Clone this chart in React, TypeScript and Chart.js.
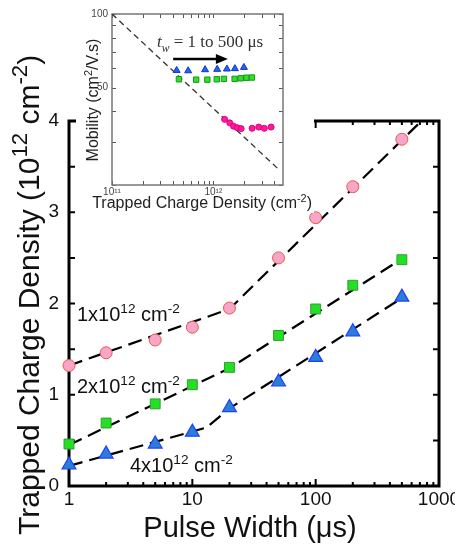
import { useEffect, useRef } from 'react';
import { Chart, registerables } from 'chart.js';

Chart.register(...registerables);

// ---------------- Main plot data ----------------
const pulseWidths = [1, 2, 5, 10, 20, 50, 100, 200, 500];
const density1e12 = [1.32, 1.46, 1.6, 1.74, 1.95, 2.5, 2.94, 3.28, 3.8];
const density2e12 = [0.46, 0.69, 0.9, 1.11, 1.3, 1.65, 1.94, 2.2, 2.48];
const density4e12 = [0.23, 0.35, 0.46, 0.59, 0.86, 1.14, 1.41, 1.69, 2.07];

// dashed guide lines (piecewise fits)
const fit1X = [1, 20, 720];
const fit1Y = [1.32, 1.94, 4.0];
const fit2X = [1, 20, 500];
const fit2Y = [0.45, 1.29, 2.49];
const fit4X = [1, 13, 20, 500];
const fit4Y = [0.22, 0.64, 0.85, 2.06];

const mainYTicks = [0, 1, 2, 3, 4];
const mainXTicks = [1, 10, 100, 1000];

// ---------------- Inset data ----------------
const insetTriX = [4.34e11, 5.64e11, 8.28e11, 1.09e12, 1.36e12, 1.63e12, 2.0e12];
const insetTriY = [58.8, 58.6, 59.2, 59.4, 59.6, 59.8, 60.5];
const insetSqX = [4.57e11, 6.76e11, 8.72e11, 1.08e12, 1.27e12, 1.62e12, 1.86e12, 2.12e12, 2.4e12];
const insetSqY = [54.1, 53.9, 53.9, 54.1, 54.3, 54.3, 54.6, 54.9, 55.0];
const insetCircX = [1.29e12, 1.45e12, 1.58e12, 1.72e12, 1.88e12, 2.41e12, 2.8e12, 3.18e12, 3.71e12];
const insetCircY = [37.1, 35.9, 34.8, 34.3, 34.0, 34.1, 34.5, 34.1, 34.5];
const insetDiagX = [1e11, 4.54e12];
const insetDiagY = [100, 22.9];
const insetArrowX = [4.01e11, 1.39e12];
const insetArrowY = [65.5, 65.5];

const SANS = "'Liberation Sans', Arial, sans-serif";
const SERIF = "'Liberation Serif', 'Times New Roman', serif";

Chart.defaults.font.family = SANS;

const toXY = (xs: number[], ys: number[]) => xs.map((x, i) => ({ x, y: ys[i] }));
const isPow10 = (v: number) => Math.abs(Math.log10(v) - Math.round(Math.log10(v))) < 1e-9;

type Part = { t: string; sup?: boolean; sub?: boolean; italic?: boolean };

function partFont(p: Part, size: number, family: string, supRatio: number) {
  const fs = p.sup || p.sub ? size * supRatio : size;
  return `${p.italic ? 'italic ' : ''}${fs}px ${family}`;
}
function richWidth(ctx: CanvasRenderingContext2D, parts: Part[], size: number, family: string, supRatio = 0.68) {
  let w = 0;
  for (const p of parts) {
    ctx.font = partFont(p, size, family, supRatio);
    w += ctx.measureText(p.t).width;
  }
  return w;
}
function drawRich(
  ctx: CanvasRenderingContext2D, parts: Part[], x: number, y: number, size: number, family: string, color: string, supRatio = 0.68,
) {
  let cx = x;
  ctx.fillStyle = color;
  ctx.textAlign = 'left';
  ctx.textBaseline = 'alphabetic';
  for (const p of parts) {
    ctx.font = partFont(p, size, family, supRatio);
    const dy = p.sup ? -size * 0.4 : p.sub ? size * 0.28 : 0;
    ctx.fillText(p.t, cx, y + dy);
    cx += ctx.measureText(p.t).width;
  }
}

// annotation labels (anchor in data coordinates)
const mainLabels: { x: number; y: number; parts: Part[] }[] = [
  { x: 1.16, y: 1.81, parts: [{ t: '1x10' }, { t: '12', sup: true }, { t: ' cm' }, { t: '-2', sup: true }] },
  { x: 1.16, y: 1.02, parts: [{ t: '2x10' }, { t: '12', sup: true }, { t: ' cm' }, { t: '-2', sup: true }] },
  { x: 3.12, y: 0.15, parts: [{ t: '4x10' }, { t: '12', sup: true }, { t: ' cm' }, { t: '-2', sup: true }] },
];

const mainDecor = {
  id: 'mainDecor',
  beforeDatasetsDraw(chart: any) {
    const { ctx, chartArea: a, scales } = chart;
    const x = scales.x, y = scales.y;
    ctx.save();
    ctx.strokeStyle = '#000';
    ctx.lineWidth = 2;
    ctx.beginPath();
    for (let v = 0; v <= 4.0001; v += 0.5) {
      const py = y.getPixelForValue(v);
      ctx.moveTo(a.left, py); ctx.lineTo(a.left + 6, py);
      ctx.moveTo(a.right, py); ctx.lineTo(a.right - 6, py);
    }
    for (let d = 1; d <= 1000; d *= 10) {
      for (let m = 1; m <= 9; m++) {
        const v = m * d;
        if (v > 1000) break;
        const px = x.getPixelForValue(v);
        const len = m === 1 ? 7 : 4;
        ctx.moveTo(px, a.bottom); ctx.lineTo(px, a.bottom - len);
        ctx.moveTo(px, a.top); ctx.lineTo(px, a.top + len);
      }
    }
    ctx.stroke();
    ctx.lineWidth = 3;
    ctx.strokeRect(a.left, a.top, a.right - a.left, a.bottom - a.top);
    ctx.restore();
  },
  afterDraw(chart: any) {
    const { ctx, scales } = chart;
    ctx.save();
    // x title
    const xt: Part[] = [{ t: 'Pulse Width (μs)' }];
    const xw = richWidth(ctx, xt, 29, SANS);
    drawRich(ctx, xt, 250 - xw / 2, 537, 29, SANS, '#111');
    // y title
    const yt: Part[] = [{ t: 'Trapped Charge Density (10' }, { t: '12', sup: true }, { t: ' cm' }, { t: '-2', sup: true }, { t: ')' }];
    ctx.save();
    ctx.translate(39, 535);
    ctx.rotate(-Math.PI / 2);
    drawRich(ctx, yt, 0, 0, 30, SANS, '#111', 0.74);
    ctx.restore();
    // annotations
    for (const l of mainLabels) {
      drawRich(ctx, l.parts, scales.x.getPixelForValue(l.x), scales.y.getPixelForValue(l.y), 20, SANS, '#111');
    }
    ctx.restore();
  },
};

const insetTitle: Part[] = [{ t: 't', italic: true }, { t: 'w', sub: true, italic: true }, { t: ' = 1 to 500 μs' }];
const insetTitleAnchor = { x: 2.78e11, y: 73.4 };

const insetDecor = {
  id: 'insetDecor',
  beforeDatasetsDraw(chart: any) {
    const { ctx, chartArea: a, scales } = chart;
    const x = scales.x, y = scales.y;
    ctx.save();
    ctx.strokeStyle = '#555';
    ctx.lineWidth = 1;
    ctx.beginPath();
    for (let v = 20; v <= 100; v += 10) {
      const py = Math.round(y.getPixelForValue(v)) + 0.5;
      ctx.moveTo(a.left, py); ctx.lineTo(a.left + 4, py);
      ctx.moveTo(a.right, py); ctx.lineTo(a.right - 4, py);
    }
    for (let d = 1e11; d <= 1e12; d *= 10) {
      for (let m = 1; m <= 9; m++) {
        const v = m * d;
        if (v > x.max) break;
        const px = Math.round(x.getPixelForValue(v)) + 0.5;
        ctx.moveTo(px, a.bottom); ctx.lineTo(px, a.bottom - 4);
        ctx.moveTo(px, a.top); ctx.lineTo(px, a.top + 4);
      }
    }
    ctx.stroke();
    ctx.strokeStyle = '#777';
    ctx.lineWidth = 1.5;
    ctx.strokeRect(a.left, a.top, a.right - a.left, a.bottom - a.top);
    ctx.restore();
  },
  afterDraw(chart: any) {
    const { ctx, scales } = chart;
    const x = scales.x, y = scales.y;
    ctx.save();
    // arrow
    const x0 = x.getPixelForValue(insetArrowX[0]);
    const x1 = x.getPixelForValue(insetArrowX[1]);
    const py = y.getPixelForValue(insetArrowY[0]);
    ctx.strokeStyle = '#000';
    ctx.fillStyle = '#000';
    ctx.lineWidth = 2.6;
    ctx.beginPath();
    ctx.moveTo(x0, py); ctx.lineTo(x1 - 8, py);
    ctx.stroke();
    ctx.beginPath();
    ctx.moveTo(x1, py); ctx.lineTo(x1 - 12, py - 5); ctx.lineTo(x1 - 12, py + 5); ctx.closePath();
    ctx.fill();
    // t_w text
    drawRich(ctx, insetTitle, x.getPixelForValue(insetTitleAnchor.x), y.getPixelForValue(insetTitleAnchor.y), 17, SERIF, '#333');
    // x title
    const xt: Part[] = [{ t: 'Trapped Charge Density (cm' }, { t: '-2', sup: true }, { t: ')' }];
    const xw = richWidth(ctx, xt, 16, SANS);
    const cx = chart.width - 2 - xw / 2;
    drawRich(ctx, xt, cx - xw / 2, 208, 16, SANS, '#222');
    // y title
    const yt: Part[] = [{ t: 'Mobility (cm' }, { t: '2', sup: true }, { t: '/V.s)' }];
    const yw = richWidth(ctx, yt, 16, SANS);
    ctx.save();
    ctx.translate(22, 100);
    ctx.rotate(-Math.PI / 2);
    drawRich(ctx, yt, -yw / 2, 0, 16, SANS, '#222');
    ctx.restore();
    ctx.restore();
  },
};

export default function App() {
  const mainRef = useRef<HTMLCanvasElement>(null);
  const insetRef = useRef<HTMLCanvasElement>(null);

  useEffect(() => {
    const lineDs = (xs: number[], ys: number[]) => ({
      data: toXY(xs, ys),
      showLine: true,
      borderColor: '#000',
      borderWidth: 2.2,
      borderDash: [14, 7],
      pointRadius: 0,
      fill: false,
      order: 2,
    });
    const main = new Chart(mainRef.current!, {
      type: 'scatter',
      data: {
        datasets: [
          lineDs(fit1X, fit1Y),
          lineDs(fit2X, fit2Y),
          lineDs(fit4X, fit4Y),
          {
            data: toXY(pulseWidths, density1e12),
            pointStyle: 'circle', pointRadius: 6, backgroundColor: '#f8a6c8', borderColor: '#e65a4e', borderWidth: 1,
            order: 1, clip: false,
          } as any,
          {
            data: toXY(pulseWidths, density2e12),
            pointStyle: 'rect', pointRadius: 7, backgroundColor: '#22e022', borderColor: '#3a9a3a', borderWidth: 1,
            order: 1, clip: false,
          } as any,
          {
            data: toXY(pulseWidths, density4e12),
            pointStyle: 'triangle', pointRadius: 8, backgroundColor: '#2a7fd4', borderColor: '#1f3fff', borderWidth: 1.2,
            order: 1, clip: false,
          } as any,
        ],
      },
      options: {
        responsive: false,
        animation: false,
        devicePixelRatio: 1,
        events: [],
        layout: { padding: { left: 0, right: 16, top: 121, bottom: 0 } },
        plugins: { legend: { display: false }, tooltip: { enabled: false } },
        scales: {
          x: {
            type: 'logarithmic', min: 1, max: 1000,
            grid: { display: false, drawTicks: false },
            border: { display: false },
            ticks: {
              autoSkip: false, maxRotation: 0, padding: 2, color: '#111',
              font: { family: SANS, size: 19 },
              callback: (v: any) => (mainXTicks.some((t) => Math.abs(t - Number(v)) < 1e-9) ? String(Number(v)) : ''),
            },
            afterFit: (s: any) => { s.height = 58; s.paddingLeft = 0; s.paddingRight = 0; },
          },
          y: {
            type: 'linear', min: 0, max: 4,
            grid: { display: false, drawTicks: false },
            border: { display: false },
            ticks: {
              stepSize: 1, padding: 10, color: '#111',
              font: { family: SANS, size: 19 },
              callback: (v: any) => (mainYTicks.includes(Number(v)) ? String(v) : ''),
            },
            afterFit: (s: any) => { s.width = 69; s.paddingTop = 0; s.paddingBottom = 0; },
          },
        },
      } as any,
      plugins: [mainDecor],
    });

    const inset = new Chart(insetRef.current!, {
      type: 'scatter',
      data: {
        datasets: [
          {
            data: toXY(insetDiagX, insetDiagY),
            showLine: true, borderColor: '#333', borderWidth: 1.3, borderDash: [6, 4], pointRadius: 0, order: 2,
          } as any,
          {
            data: toXY(insetTriX, insetTriY),
            pointStyle: 'triangle', pointRadius: 4, backgroundColor: '#2266ee', borderColor: '#1133cc', borderWidth: 1, order: 1,
          } as any,
          {
            data: toXY(insetSqX, insetSqY),
            pointStyle: 'rect', pointRadius: 3.8, backgroundColor: '#33dd33', borderColor: '#119911', borderWidth: 1, order: 1,
          } as any,
          {
            data: toXY(insetCircX, insetCircY),
            pointStyle: 'circle', pointRadius: 3, backgroundColor: '#ff1aa0', borderColor: '#dd0077', borderWidth: 1, order: 1,
          } as any,
        ],
      },
      options: {
        responsive: false,
        animation: false,
        devicePixelRatio: 1,
        events: [],
        layout: { padding: { left: 0, right: 31, top: 14, bottom: 0 } },
        plugins: { legend: { display: false }, tooltip: { enabled: false } },
        scales: {
          x: {
            type: 'logarithmic', min: 1e11, max: 4.86e12,
            grid: { display: false, drawTicks: false },
            border: { display: false },
            ticks: {
              autoSkip: false, maxRotation: 0, padding: 1, color: '#444',
              font: { family: SANS, size: 10 },
              callback: (v: any) => {
                const n = Number(v);
                if (!isPow10(n)) return '';
                const e = Math.round(Math.log10(n));
                return e === 11 ? '10¹¹' : e === 12 ? '10¹²' : '';
              },
            },
            afterFit: (s: any) => { s.height = 28; s.paddingLeft = 0; s.paddingRight = 0; },
          },
          y: {
            type: 'logarithmic', min: 20, max: 100,
            grid: { display: false, drawTicks: false },
            border: { display: false },
            ticks: {
              autoSkip: false, padding: 4, color: '#444',
              font: { family: SANS, size: 10 },
              callback: (v: any) => (Number(v) === 100 || Number(v) === 50 ? String(Number(v)) : ''),
            },
            afterFit: (s: any) => { s.width = 36; s.paddingTop = 0; s.paddingBottom = 0; },
          },
        },
      } as any,
      plugins: [insetDecor],
    });

    return () => {
      main.destroy();
      inset.destroy();
    };
  }, []);

  return (
    <div style={{ position: 'absolute', left: 0, top: 0, width: 455, height: 544, background: '#fff' }}>
      <canvas ref={mainRef} width={455} height={544} style={{ position: 'absolute', left: 0, top: 0, width: 455, height: 544 }} />
      <canvas ref={insetRef} width={238} height={213} style={{ position: 'absolute', left: 76, top: 0, width: 238, height: 213, background: '#fff' }} />
    </div>
  );
}
